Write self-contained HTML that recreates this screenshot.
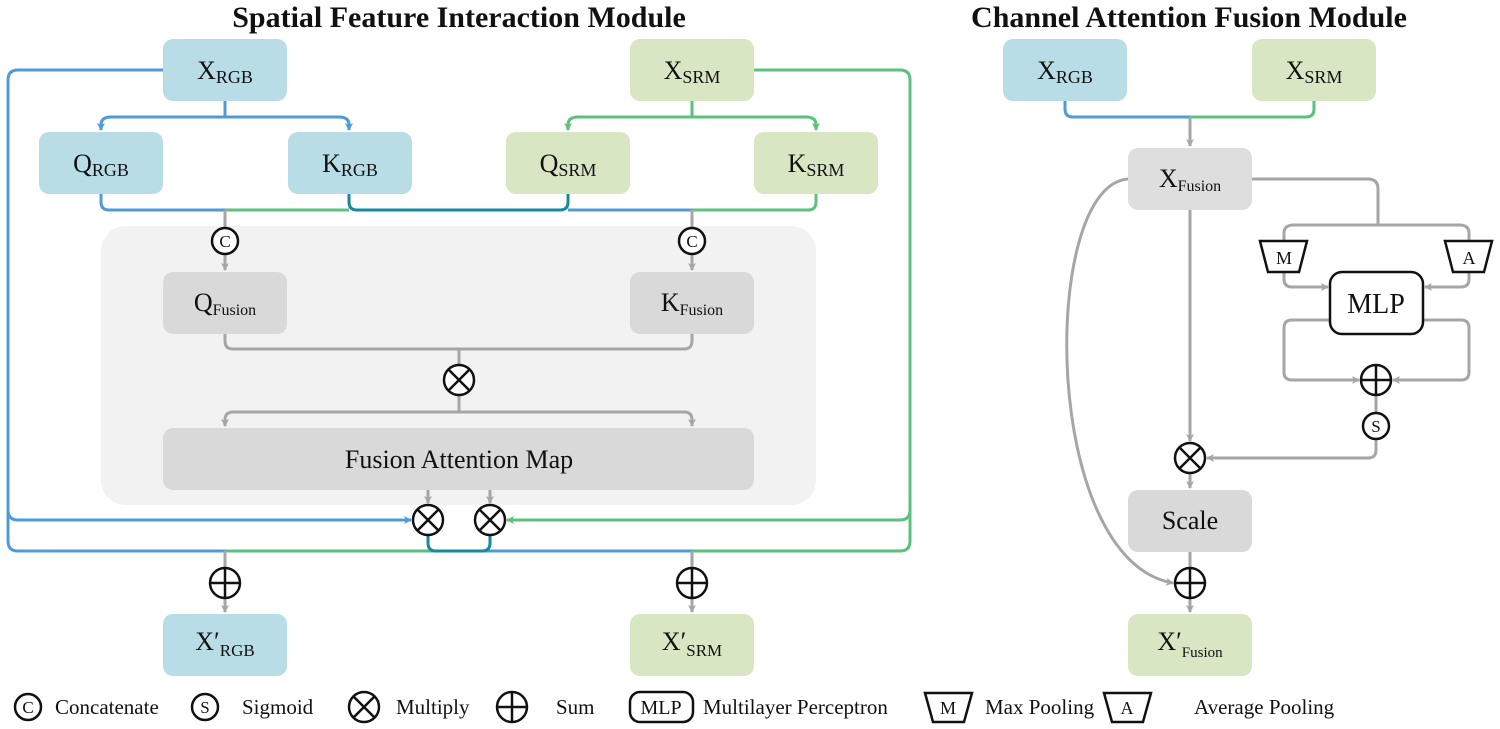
<!DOCTYPE html>
<html><head><meta charset="utf-8"><style>
html,body{margin:0;padding:0;background:#fff;}
svg{display:block;}
text{font-family:"Liberation Serif",serif;fill:#111;}
</style></head><body>
<svg width="1500" height="729" viewBox="0 0 1500 729" xmlns="http://www.w3.org/2000/svg">
<defs>
<marker id="ag" markerWidth="8" markerHeight="8" refX="7" refY="4" orient="auto" markerUnits="userSpaceOnUse"><path d="M0,0 L8,4 L0,8 L2,4 z" fill="#a6a6a6"/></marker>
<marker id="ab" markerWidth="8" markerHeight="8" refX="7" refY="4" orient="auto" markerUnits="userSpaceOnUse"><path d="M0,0 L8,4 L0,8 L2,4 z" fill="#4f9bd6"/></marker>
<marker id="an" markerWidth="8" markerHeight="8" refX="7" refY="4" orient="auto" markerUnits="userSpaceOnUse"><path d="M0,0 L8,4 L0,8 L2,4 z" fill="#5cc07e"/></marker>
</defs>

<!-- titles -->
<text x="459" y="27" font-size="30" font-weight="bold" text-anchor="middle">Spatial Feature Interaction Module</text>
<text x="1189" y="27" font-size="30" font-weight="bold" text-anchor="middle">Channel Attention Fusion Module</text>

<!-- grey panel -->
<rect x="101" y="226" width="715" height="279" rx="25" fill="#f2f2f2"/>

<g fill="none" stroke-width="3">
<path d="M225,101 V117 H111 Q101,117 101,125 V130" stroke="#4f9bd6" marker-end="url(#ab)"/>
<path d="M225,117 H339 Q349,117 349,125 V130" stroke="#4f9bd6" marker-end="url(#ab)"/>
<path d="M692,101 V117 H578 Q568,117 568,125 V130" stroke="#5cc07e" marker-end="url(#an)"/>
<path d="M692,117 H806 Q816,117 816,125 V130" stroke="#5cc07e" marker-end="url(#an)"/>
<path d="M101,194 V202 Q101,210 109,210 H225" stroke="#4f9bd6"/>
<path d="M225,210 H349" stroke="#5cc07e"/>
<path d="M349,194 V202 Q349,210 357,210 H560 Q568,210 568,202 V194" stroke="#16899e"/>
<path d="M568,210 H692" stroke="#4f9bd6"/>
<path d="M692,210 H808 Q816,210 816,202 V194" stroke="#5cc07e"/>
<path d="M163,70 H18 Q8,70 8,80 V541 Q8,551 18,551 H225" stroke="#4f9bd6"/>
<path d="M8,510 Q8,520 18,520 H411" stroke="#4f9bd6" marker-end="url(#ab)"/>
<path d="M225,551 H436" stroke="#5cc07e"/>
<path d="M482,551 H692" stroke="#4f9bd6"/>
<path d="M428,535 V543 Q428,551 436,551 H482 Q490,551 490,543 V535" stroke="#16899e"/>
<path d="M754,70 H900 Q910,70 910,80 V541 Q910,551 900,551 H692" stroke="#5cc07e"/>
<path d="M910,510 Q910,520 900,520 H507" stroke="#5cc07e" marker-end="url(#an)"/>
<path d="M1065,101 V109 Q1065,117 1073,117 H1190" stroke="#4f9bd6"/>
<path d="M1314,101 V109 Q1314,117 1306,117 H1190" stroke="#5cc07e"/>
</g>

<g fill="none" stroke="#a6a6a6" stroke-width="3">
<path d="M225,210 V228"/><path d="M225,254 V270" marker-end="url(#ag)"/>
<path d="M692,210 V228"/><path d="M692,254 V270" marker-end="url(#ag)"/>
<path d="M225,334 V341 Q225,349 233,349 H684 Q692,349 692,341 V334"/>
<path d="M459,349 V365"/>
<path d="M459,395 V412"/>
<path d="M459,412 H233 Q225,412 225,420 V426" marker-end="url(#ag)"/>
<path d="M459,412 H684 Q692,412 692,420 V426" marker-end="url(#ag)"/>
<path d="M428,490 V503" marker-end="url(#ag)"/>
<path d="M490,490 V503" marker-end="url(#ag)"/>
<path d="M225,551 V568"/><path d="M225,598 V612" marker-end="url(#ag)"/>
<path d="M692,551 V568"/><path d="M692,598 V612" marker-end="url(#ag)"/>
<path d="M1190,117 V146" marker-end="url(#ag)"/>
<path d="M1252,179 H1368 Q1378,179 1378,189 V225"/>
<path d="M1294,225 H1459 Q1469,225 1469,233 V240"/>
<path d="M1294,225 Q1284,225 1284,233 V240"/>
<path d="M1284,272 V279 Q1284,287 1292,287 H1328" marker-end="url(#ag)"/>
<path d="M1469,272 V279 Q1469,287 1461,287 H1425" marker-end="url(#ag)"/>
<path d="M1330,320 H1292 Q1284,320 1284,328 V372 Q1284,380 1292,380 H1359" marker-end="url(#ag)"/>
<path d="M1423,320 H1461 Q1469,320 1469,328 V372 Q1469,380 1461,380 H1393" marker-end="url(#ag)"/>
<path d="M1376,395 V413"/>
<path d="M1376,439 V450 Q1376,458 1368,458 H1207" marker-end="url(#ag)"/>
<path d="M1190,210 V441" marker-end="url(#ag)"/>
<path d="M1190,473 V488" marker-end="url(#ag)"/>
<path d="M1190,552 V568"/>
<path d="M1190,598 V612" marker-end="url(#ag)"/>
<path d="M1128,179 C1040,185 1040,560 1173,583" marker-end="url(#ag)"/>
</g>

<g>
<rect x="163" y="39" width="124" height="62" rx="10" fill="#b8dde6"/>
<rect x="630" y="39" width="124" height="62" rx="10" fill="#d8e6c4"/>
<rect x="39" y="132" width="124" height="62" rx="10" fill="#b8dde6"/>
<rect x="288" y="132" width="124" height="62" rx="10" fill="#b8dde6"/>
<rect x="506" y="132" width="124" height="62" rx="10" fill="#d8e6c4"/>
<rect x="754" y="132" width="124" height="62" rx="10" fill="#d8e6c4"/>
<rect x="163" y="272" width="124" height="62" rx="10" fill="#d9d9d9"/>
<rect x="630" y="272" width="124" height="62" rx="10" fill="#d9d9d9"/>
<rect x="163" y="428" width="591" height="62" rx="10" fill="#d9d9d9"/>
<rect x="163" y="614" width="124" height="62" rx="10" fill="#b8dde6"/>
<rect x="630" y="614" width="124" height="62" rx="10" fill="#d8e6c4"/>
<rect x="1003" y="39" width="124" height="62" rx="10" fill="#b8dde6"/>
<rect x="1252" y="39" width="124" height="62" rx="10" fill="#d8e6c4"/>
<rect x="1128" y="148" width="124" height="62" rx="10" fill="#dedede"/>
<rect x="1128" y="490" width="124" height="62" rx="10" fill="#d9d9d9"/>
<rect x="1128" y="614" width="124" height="62" rx="10" fill="#d8e6c4"/>
<rect x="1330" y="272" width="93" height="62" rx="12" fill="#fff" stroke="#111" stroke-width="2.5"/>
</g>

<g font-size="26" text-anchor="middle">
<text x="225" y="79">X<tspan font-size="18" dy="4">RGB</tspan></text>
<text x="692" y="79">X<tspan font-size="18" dy="4">SRM</tspan></text>
<text x="101" y="172">Q<tspan font-size="18" dy="4">RGB</tspan></text>
<text x="350" y="172">K<tspan font-size="18" dy="4">RGB</tspan></text>
<text x="568" y="172">Q<tspan font-size="18" dy="4">SRM</tspan></text>
<text x="816" y="172">K<tspan font-size="18" dy="4">SRM</tspan></text>
<text x="225" y="311">Q<tspan font-size="16" dy="4">Fusion</tspan></text>
<text x="692" y="311">K<tspan font-size="16" dy="4">Fusion</tspan></text>
<text x="459" y="468">Fusion Attention Map</text>
<text x="225" y="650">X′<tspan font-size="17" dy="6">RGB</tspan></text>
<text x="692" y="650">X′<tspan font-size="17" dy="6">SRM</tspan></text>
<text x="1065" y="79">X<tspan font-size="18" dy="4">RGB</tspan></text>
<text x="1314" y="79">X<tspan font-size="18" dy="4">SRM</tspan></text>
<text x="1190" y="187">X<tspan font-size="16" dy="4">Fusion</tspan></text>
<text x="1190" y="529">Scale</text>
<text x="1190" y="650">X′<tspan font-size="15" dy="7">Fusion</tspan></text>
<text x="1376" y="313" font-size="28">MLP</text>
</g>

<g fill="#fff" stroke="#111" stroke-width="2.5">
<circle cx="225" cy="241" r="13"/><circle cx="692" cy="241" r="13"/>
<circle cx="1376" cy="426" r="13"/>
<circle cx="28" cy="707" r="13"/><circle cx="205" cy="707" r="13"/>
</g>
<g font-size="17" text-anchor="middle">
<text x="225" y="247">C</text><text x="692" y="247">C</text>
<text x="1376" y="432">S</text>
<text x="28" y="713">C</text><text x="205" y="713">S</text>
</g>
<g fill="#fff" stroke="#111" stroke-width="2.5">
<g transform="translate(459,380)"><circle r="15"/><path d="M-10.6,-10.6 L10.6,10.6 M-10.6,10.6 L10.6,-10.6"/></g>
<g transform="translate(428,520)"><circle r="15"/><path d="M-10.6,-10.6 L10.6,10.6 M-10.6,10.6 L10.6,-10.6"/></g>
<g transform="translate(490,520)"><circle r="15"/><path d="M-10.6,-10.6 L10.6,10.6 M-10.6,10.6 L10.6,-10.6"/></g>
<g transform="translate(1190,458)"><circle r="15"/><path d="M-10.6,-10.6 L10.6,10.6 M-10.6,10.6 L10.6,-10.6"/></g>
<g transform="translate(364,707)"><circle r="15"/><path d="M-10.6,-10.6 L10.6,10.6 M-10.6,10.6 L10.6,-10.6"/></g>
<g transform="translate(225,583)"><circle r="15"/><path d="M-15,0 H15 M0,-15 V15"/></g>
<g transform="translate(692,583)"><circle r="15"/><path d="M-15,0 H15 M0,-15 V15"/></g>
<g transform="translate(1376,380)"><circle r="15"/><path d="M-15,0 H15 M0,-15 V15"/></g>
<g transform="translate(1190,583)"><circle r="15"/><path d="M-15,0 H15 M0,-15 V15"/></g>
<g transform="translate(512,707)"><circle r="15"/><path d="M-15,0 H15 M0,-15 V15"/></g>
<path d="M1260,241 H1307 L1299,272 H1268 Z"/>
<path d="M1445,241 H1492 L1484,272 H1453 Z"/>
<path d="M925,693 H972 L964,722 H933 Z"/>
<path d="M1104,693 H1151 L1143,722 H1112 Z"/>
<rect x="630" y="692" width="63" height="30" rx="10"/>
</g>
<g font-size="18" text-anchor="middle">
<text x="1284" y="264">M</text><text x="1469" y="264">A</text>
<text x="948" y="714">M</text><text x="1127" y="714">A</text>
<text x="661" y="714" font-size="20">MLP</text>
</g>

<g font-size="21">
<text x="55" y="714">Concatenate</text>
<text x="242" y="714">Sigmoid</text>
<text x="396" y="714">Multiply</text>
<text x="556" y="714">Sum</text>
<text x="703" y="714">Multilayer Perceptron</text>
<text x="985" y="714">Max Pooling</text>
<text x="1194" y="714">Average Pooling</text>
</g>
</svg>
</body></html>
